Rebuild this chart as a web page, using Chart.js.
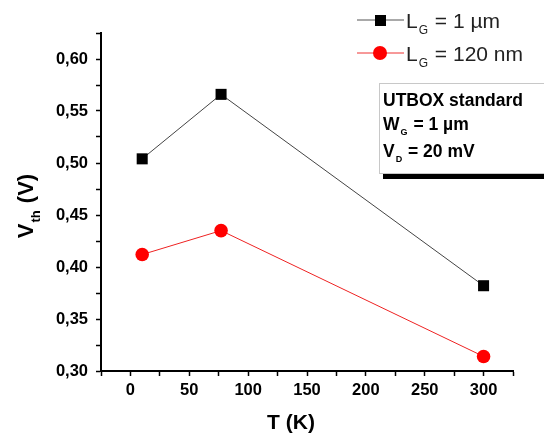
<!DOCTYPE html>
<html>
<head>
<meta charset="utf-8">
<script src="https://cdn.jsdelivr.net/npm/chart.js@4"></script>
<style>
  html, body { margin: 0; padding: 0; background: #fff; }
  #wrap { width: 544px; height: 434px; }
</style>
</head>
<body>
<div id="wrap"><canvas id="myChart" width="544" height="434"></canvas></div>
<script>
const temps = [10, 77, 300];
const vthLong = [0.504, 0.566, 0.382];   // LG = 1 µm
const vthShort = [0.412, 0.435, 0.314];  // LG = 120 nm
const xTicks = [0, 50, 100, 150, 200, 250, 300];
const yTicks = [0.30, 0.35, 0.40, 0.45, 0.50, 0.55, 0.60];
const boxLines = [['UTBOX standard', ''], ['W', 'G', ' = 1 µm'], ['V', 'D', ' = 20 mV']];

const FONT = '"Liberation Sans", Arial, sans-serif';

function subText(ctx, x, y, parts, size, subSize, bold) {
    // parts: [main, sub, rest]
    const w = bold ? 'bold ' : '';
    ctx.font = w + size + 'px ' + FONT;
    ctx.fillText(parts[0], x, y);
    x += ctx.measureText(parts[0]).width;
    if (parts[1]) {
        ctx.font = w + subSize + 'px ' + FONT;
        ctx.fillText(parts[1], x + 1, y + size * 0.3);
        x += ctx.measureText(parts[1]).width + 2;
    }
    if (parts[2]) {
        ctx.font = w + size + 'px ' + FONT;
        ctx.fillText(parts[2], x, y);
    }
}

const extras = {
    id: 'extras',
    afterDraw(chart) {
        const ctx = chart.ctx;
        ctx.save();
        ctx.fillStyle = '#000';
        ctx.textBaseline = 'alphabetic';
        ctx.textAlign = 'left';

        // legend
        const rows = [
            { y: 20, line: '#555', color: '#000', shape: 'rect', parts: ['L', 'G', ' = 1 µm'] },
            { y: 53, line: '#e33', color: '#f00', shape: 'circle', parts: ['L', 'G', ' = 120 nm'] }
        ];
        rows.forEach(r => {
            ctx.strokeStyle = r.line;
            ctx.lineWidth = 1;
            ctx.beginPath();
            ctx.moveTo(357, r.y); ctx.lineTo(404, r.y);
            ctx.stroke();
            ctx.fillStyle = r.color;
            if (r.shape === 'rect') {
                ctx.fillRect(375, r.y - 5, 11, 11);
            } else {
                ctx.beginPath();
                ctx.arc(380, r.y, 7, 0, Math.PI * 2);
                ctx.fill();
            }
            ctx.fillStyle = '#222';
            subText(ctx, 406, r.y + 8, r.parts, 21, 12, false);
        });

        // annotation box
        ctx.fillStyle = '#000';
        ctx.fillRect(383, 174, 170, 5);
        ctx.fillStyle = '#fff';
        ctx.fillRect(379, 83, 170, 91);
        ctx.strokeStyle = '#c8c8c8';
        ctx.lineWidth = 1;
        ctx.strokeRect(379.5, 83.5, 170, 90);
        ctx.fillStyle = '#000';
        const base = [106, 130, 157];
        boxLines.forEach((p, i) => subText(ctx, 383, base[i], p, 17.5, 9, true));

        // axis titles
        ctx.font = 'bold 21px ' + FONT;
        ctx.textAlign = 'center';
        ctx.fillText('T (K)', 291, 429);

        ctx.translate(33, 206);
        ctx.rotate(-Math.PI / 2);
        ctx.textAlign = 'left';
        const tw = (function () {
            ctx.font = 'bold 22px ' + FONT;
            let w = ctx.measureText('V').width + ctx.measureText(' (V)').width;
            ctx.font = 'bold 13px ' + FONT;
            return w + ctx.measureText('th').width + 2;
        })();
        subText(ctx, -tw / 2, 0, ['V', 'th', ' (V)'], 22, 13, true);
        ctx.restore();
    }
};

const ctx = document.getElementById('myChart').getContext('2d');
new Chart(ctx, {
    type: 'scatter',
    data: {
        datasets: [{
            label: 'LG = 1 µm',
            data: temps.map((t, i) => ({ x: t, y: vthLong[i] })),
            showLine: true,
            borderColor: '#444',
            borderWidth: 1,
            backgroundColor: '#000',
            pointStyle: 'rect',
            pointRadius: 7.8,
            pointBorderWidth: 0
        }, {
            label: 'LG = 120 nm',
            data: temps.map((t, i) => ({ x: t, y: vthShort[i] })),
            showLine: true,
            borderColor: '#e22',
            borderWidth: 1,
            backgroundColor: '#f00',
            pointStyle: 'circle',
            pointRadius: 6.8,
            pointBorderWidth: 0
        }]
    },
    options: {
        responsive: false,
        animation: false,
        layout: { padding: { top: 33, right: 31, left: 0, bottom: 0 } },
        plugins: { legend: { display: false }, tooltip: { enabled: false } },
        scales: {
            x: {
                type: 'linear',
                min: -25, max: 325,
                afterFit: s => { s.height = 63; },
                afterBuildTicks: s => {
                    const t = [];
                    for (let v = -25; v <= 325; v += 25) t.push({ value: v });
                    s.ticks = t;
                },
                ticks: {
                    autoSkip: false,
                    maxRotation: 0,
                    padding: 5,
                    color: '#000',
                    font: { family: FONT, size: 16.5, weight: 'bold' },
                    callback: v => xTicks.includes(v) ? String(v) : ''
                },
                grid: { drawOnChartArea: false, tickLength: 5, tickWidth: 1.5, tickColor: '#000' },
                border: { color: '#000', width: 2 }
            },
            y: {
                type: 'linear',
                min: 0.30, max: 0.625,
                afterFit: s => { s.width = 101; },
                afterBuildTicks: s => {
                    const t = [];
                    for (let k = 0; k <= 13; k++) t.push({ value: +(0.30 + k * 0.025).toFixed(3) });
                    s.ticks = t;
                },
                ticks: {
                    autoSkip: false,
                    padding: 8,
                    color: '#000',
                    font: { family: FONT, size: 16.5, weight: 'bold' },
                    callback: v => yTicks.some(y => Math.abs(y - v) < 1e-6) ? v.toFixed(2).replace('.', ',') : ''
                },
                grid: { drawOnChartArea: false, tickLength: 5, tickWidth: 1.5, tickColor: '#000' },
                border: { color: '#000', width: 2 }
            }
        }
    },
    plugins: [extras]
});
</script>
</body>
</html>
